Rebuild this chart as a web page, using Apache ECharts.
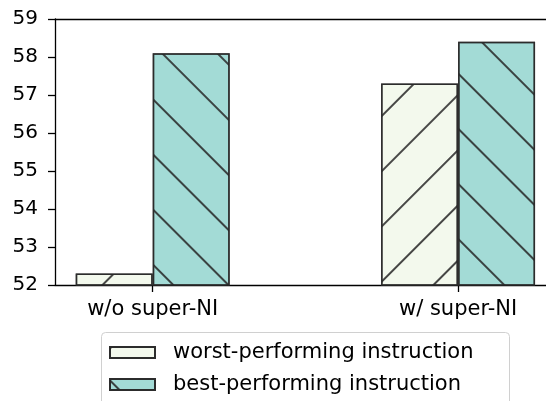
<!DOCTYPE html>
<html><head><meta charset="utf-8">
<script src="https://cdn.jsdelivr.net/npm/echarts@6/dist/echarts.min.js"></script>
<style>html,body{margin:0;padding:0;background:#fff}#c{width:546px;height:401px}</style>
</head><body><div id="c"></div>
<script>
var categories = ['w/o super-NI', 'w/ super-NI'];
var categoryPos = [0, 1];
var worst = [52.3, 57.3];
var best = [58.1, 58.4];
var yTicks = [52, 53, 54, 55, 56, 57, 58, 59];
var seriesNames = ['worst-performing instruction', 'best-performing instruction'];

var chart = echarts.init(document.getElementById('c'), null, {renderer: 'canvas'});
var font = 'DejaVu Sans';
var edge = 'rgba(40,40,40,0.85)';
var xMin = -0.32, xMax = 1.288;
function hatch(rot) {
  return {symbol: 'rect', symbolSize: 1, color: edge,
    dashArrayX: [1, 0], dashArrayY: [1.6, 37], rotation: rot};
}
chart.setOption({
  animation: false,
  textStyle: {fontFamily: font},
  grid: {left: 55, right: 0, top: 19, bottom: 116},
  graphic: [{type: 'rect', left: 101, top: 332, shape: {width: 408, height: 100, r: 4},
    style: {fill: '#fff', stroke: '#d0d0d0', lineWidth: 1}, z: 0}],
  xAxis: [{
    type: 'value', min: xMin, max: xMax,
    splitLine: {show: false},
    axisLine: {onZero: false, lineStyle: {color: '#000', width: 1.3}},
    axisTick: {customValues: categoryPos, length: 7, lineStyle: {color: '#000', width: 1.3}},
    axisLabel: {customValues: categoryPos, color: '#000', fontSize: 21, fontFamily: font, margin: 14,
      formatter: function (v) { var i = categoryPos.indexOf(v); return i >= 0 ? categories[i] : ''; }}
  }, {
    type: 'value', position: 'top', min: xMin, max: xMax,
    splitLine: {show: false}, axisTick: {show: false}, axisLabel: {show: false},
    axisLine: {show: true, onZero: false, lineStyle: {color: '#000', width: 1.3}}
  }],
  yAxis: {
    type: 'value', min: yTicks[0], max: yTicks[yTicks.length - 1], interval: 1,
    splitLine: {show: false},
    axisLine: {show: true, onZero: false, lineStyle: {color: '#000', width: 1.3}},
    axisTick: {show: true, length: 7, lineStyle: {color: '#000', width: 1.3}},
    axisLabel: {color: '#000', fontSize: 20, fontFamily: font, margin: 17}
  },
  legend: {
    orient: 'vertical', left: 101, top: 332, z: 10,
    padding: [10, 10, 0, 8], itemWidth: 45, itemHeight: 11, itemGap: 11,
    textStyle: {fontSize: 21, color: '#000', fontFamily: font, padding: [0, 0, 0, 13]},
    data: [
      {name: seriesNames[0], icon: 'rect', itemStyle: {decal: hatch(-Math.PI / 4)}},
      {name: seriesNames[1], icon: 'rect', itemStyle: {decal: hatch(Math.PI / 4)}}
    ]
  },
  series: [
    {name: seriesNames[0], type: 'bar', barWidth: 77, barGap: '0%',
      data: categoryPos.map(function (x, i) { return [x, worst[i]]; }),
      itemStyle: {color: '#f3f9ed', borderColor: edge, borderWidth: 1.5, decal: hatch(-Math.PI / 4)}},
    {name: seriesNames[1], type: 'bar', barWidth: 77, barGap: '0%',
      data: categoryPos.map(function (x, i) { return [x, best[i]]; }),
      itemStyle: {color: '#a3dbd6', borderColor: edge, borderWidth: 1.5, decal: hatch(Math.PI / 4)}}
  ]
});
</script></body></html>
